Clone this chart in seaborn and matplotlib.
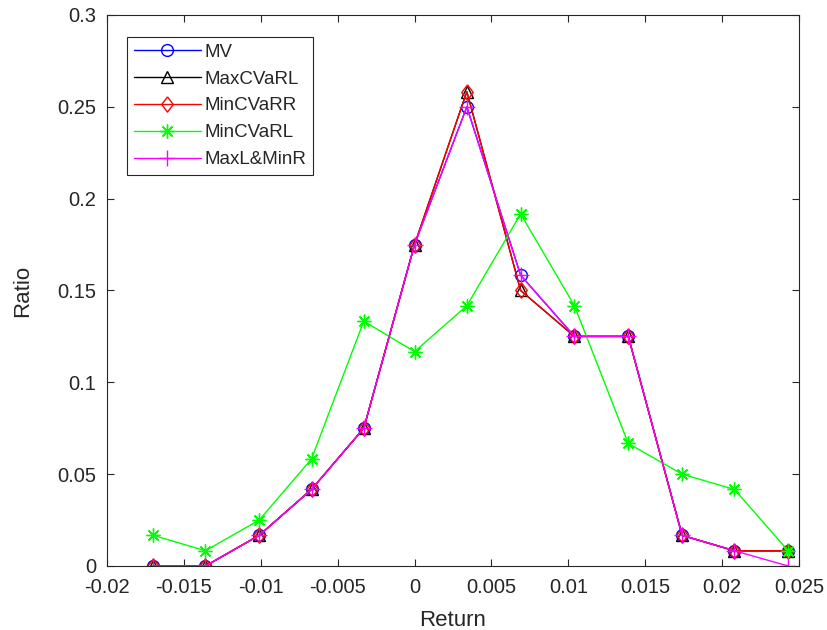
import numpy as np
import pandas as pd
import matplotlib
matplotlib.use("Agg")
import matplotlib.pyplot as plt
import seaborn as sns

# ---- data ----
returns = [-0.0170, -0.0136, -0.0101, -0.0067, -0.0033, 0.0000, 0.0034,
           0.0069, 0.0104, 0.0139, 0.0174, 0.0208, 0.0243]
mv = [0, 0, 0.0167, 0.0417, 0.075, 0.175, 0.25, 0.1583, 0.125, 0.125, 0.0167, 0.0083, 0.0083]
max_cvarl = [0, 0, 0.0167, 0.0417, 0.075, 0.175, 0.2583, 0.15, 0.125, 0.125, 0.0167, 0.0083, 0.0083]
min_cvarr = [0, 0, 0.0167, 0.0417, 0.075, 0.175, 0.2583, 0.15, 0.125, 0.125, 0.0167, 0.0083, 0.0083]
min_cvarl = [0.0167, 0.0083, 0.025, 0.0583, 0.1333, 0.1167, 0.1417, 0.1917, 0.1417, 0.0667, 0.05, 0.0417, 0.0083]
maxl_minr = [0, 0, 0.0167, 0.0417, 0.075, 0.175, 0.25, 0.1583, 0.125, 0.125, 0.0167, 0.0083, 0.0]

series_names = ["MV", "MaxCVaRL", "MinCVaRR", "MinCVaRL", "MaxL&MinR"]
series_values = [mv, max_cvarl, min_cvarr, min_cvarl, maxl_minr]

x_ticks = [-0.02, -0.015, -0.01, -0.005, 0, 0.005, 0.01, 0.015, 0.02, 0.025]
x_ticklabels = ["-0.02", "-0.015", "-0.01", "-0.005", "0", "0.005", "0.01", "0.015", "0.02", "0.025"]
y_ticks = [0, 0.05, 0.1, 0.15, 0.2, 0.25, 0.3]
y_ticklabels = ["0", "0.05", "0.1", "0.15", "0.2", "0.25", "0.3"]

# ---- style ----
sns.set_theme(style="ticks")
plt.rcParams["font.family"] = ["Liberation Sans", "DejaVu Sans"]
plt.rcParams["xtick.direction"] = "in"
plt.rcParams["ytick.direction"] = "in"
plt.rcParams["xtick.top"] = True
plt.rcParams["ytick.right"] = True
plt.rcParams["axes.unicode_minus"] = False

diamond = [(0, 1), (0.75, 0), (0, -1), (-0.75, 0), (0, 1)]
colors = ["#0000ff", "#000000", "#ff0000", "#00ff00", "#ff00ff"]
markers = ["o", "^", diamond, (8, 2, 0), "+"]
msizes = [8.5, 8.5, 11, 10, 11]

fig = plt.figure(figsize=(8.27, 6.30), dpi=100)
ax = fig.add_axes([0.1294, 0.1016, 0.8367, 0.8746])

for name, vals, c, m, ms in zip(series_names, series_values, colors, markers, msizes):
    df = pd.DataFrame({"Return": returns, "Ratio": vals})
    sns.lineplot(data=df, x="Return", y="Ratio", ax=ax, color=c, marker=m,
                 markersize=ms, markerfacecolor="none", markeredgecolor=c,
                 markeredgewidth=1.0, linewidth=1.0, label=name)

ax.set_xlim(-0.02, 0.025)
ax.set_ylim(0, 0.3)
ax.set_xticks(x_ticks)
ax.set_xticklabels(x_ticklabels)
ax.set_yticks(y_ticks)
ax.set_yticklabels(y_ticklabels)
ax.tick_params(axis="both", labelsize=14.5, colors="#262626", length=5, width=0.8)
ax.tick_params(axis="x", pad=9)
ax.tick_params(axis="y", pad=8)
for sp in ax.spines.values():
    sp.set_visible(True)
    sp.set_color("#262626")
    sp.set_linewidth(0.8)

ax.set_xlabel("Return", fontsize=16, color="#262626", labelpad=9)
ax.set_ylabel("Ratio", fontsize=16, color="#262626", labelpad=17)

leg = ax.legend(loc="upper left", bbox_to_anchor=(0.029, 0.96), fontsize=13.5,
                frameon=True, fancybox=False, framealpha=1, edgecolor="#262626",
                handlelength=3.6, handletextpad=0.16, labelspacing=0.52,
                borderpad=0.35, borderaxespad=0)
leg.get_frame().set_linewidth(0.8)

fig.savefig("out.png", dpi=100, facecolor="white")
